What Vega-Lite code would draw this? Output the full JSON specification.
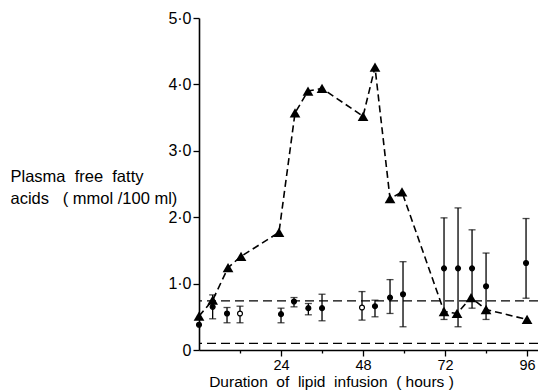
{
  "$schema": "https://vega.github.io/schema/vega-lite/v6.json",
  "width": 339,
  "height": 332,
  "autosize": "none",
  "padding": {"left": 199, "top": 18, "right": 0, "bottom": 40},
  "background": "white",
  "config": {
    "view": {"stroke": null},
    "font": "Liberation Sans",
    "axis": {"domainColor": "black", "tickColor": "black", "labelColor": "black", "titleColor": "black", "grid": false, "domainWidth": 1.6, "tickWidth": 1.3, "labelFont": "Liberation Sans", "titleFont": "Liberation Sans", "titleFontWeight": "normal"}
  },
  "datasets": {
    "tri": [
      {"h": 0, "v": 0.51}, {"h": 4, "v": 0.75}, {"h": 8.5, "v": 1.24}, {"h": 12.3, "v": 1.41},
      {"h": 23.4, "v": 1.77}, {"h": 28.1, "v": 3.57}, {"h": 31.9, "v": 3.9}, {"h": 36, "v": 3.94},
      {"h": 48, "v": 3.52}, {"h": 51.5, "v": 4.26}, {"h": 55.9, "v": 2.28}, {"h": 59.4, "v": 2.38},
      {"h": 71.7, "v": 0.58}, {"h": 75.5, "v": 0.55}, {"h": 79.6, "v": 0.79}, {"h": 84, "v": 0.61},
      {"h": 96, "v": 0.46}
    ],
    "err": [
      {"h": 0, "m": 0.38, "lo": null, "hi": null, "open": false},
      {"h": 4, "m": 0.65, "lo": 0.47, "hi": 0.83, "open": false},
      {"h": 8.2, "m": 0.55, "lo": 0.41, "hi": 0.64, "open": false},
      {"h": 12, "m": 0.55, "lo": 0.41, "hi": 0.66, "open": true},
      {"h": 24, "m": 0.54, "lo": 0.41, "hi": 0.63, "open": false},
      {"h": 27.8, "m": 0.73, "lo": 0.65, "hi": 0.79, "open": false},
      {"h": 32, "m": 0.63, "lo": 0.53, "hi": 0.7, "open": false},
      {"h": 36, "m": 0.63, "lo": 0.44, "hi": 0.84, "open": false},
      {"h": 47.7, "m": 0.64, "lo": 0.45, "hi": 0.88, "open": true},
      {"h": 51.5, "m": 0.66, "lo": 0.5, "hi": 0.75, "open": false},
      {"h": 55.9, "m": 0.79, "lo": 0.55, "hi": 1.06, "open": false},
      {"h": 59.7, "m": 0.84, "lo": 0.35, "hi": 1.33, "open": false},
      {"h": 71.7, "m": 1.23, "lo": 0.46, "hi": 1.99, "open": false},
      {"h": 75.8, "m": 1.23, "lo": 0.35, "hi": 2.14, "open": false},
      {"h": 79.9, "m": 1.23, "lo": 0.63, "hi": 1.81, "open": false},
      {"h": 84, "m": 0.96, "lo": 0.46, "hi": 1.46, "open": false},
      {"h": 95.7, "m": 1.31, "lo": 0.78, "hi": 1.98, "open": false}
    ],
    "refs": [{"r": 0.74}, {"r": 0.1}]
  },
  "layer": [
    {
      "data": {"name": "refs"},
      "mark": {"type": "rule", "color": "black", "strokeWidth": 1.3, "strokeDash": [9, 5]},
      "encoding": {
        "y": {"field": "r", "type": "quantitative", "scale": {"domain": [0, 5]},
          "axis": {
            "values": [0, 1, 2, 3, 4, 5],
            "labelExpr": "datum.value == 0 ? '0' : replace(format(datum.value, '.1f'), '.', '·')",
            "labelFontSize": 16, "tickSize": 6, "labelPadding": 2,
            "title": ["Plasma\u00a0 free\u00a0 fatty", "acids\u00a0\u00a0 ( mmol /100\u00a0ml)"],
            "titleFontSize": 16.5, "titleAngle": 0, "titleAlign": "left", "titleBaseline": "top",
            "titleX": -189, "titleY": 150, "titleLineHeight": 22
          }
        }
      }
    },
    {
      "data": {"name": "tri"},
      "mark": {"type": "line", "color": "black", "strokeWidth": 1.6, "strokeDash": [7, 4]},
      "encoding": {
        "x": {"field": "h", "type": "quantitative", "scale": {"domain": [0, 99.2], "nice": false},
          "axis": {
            "values": [12, 24, 36, 48, 60, 72, 84, 96],
            "labelExpr": "datum.value % 24 == 0 ? datum.label : ''",
            "labelFontSize": 14.5, "labelPadding": 2,
            "tickSize": {"condition": {"test": "datum.value % 24 == 0", "value": 6}, "value": 3},
            "title": "Duration\u00a0 of\u00a0 lipid\u00a0 infusion\u00a0 ( hours )",
            "titleFontSize": 15.5, "titleX": 132, "titleY": 36, "titleAlign": "center", "titleBaseline": "alphabetic"
          }
        },
        "y": {"field": "v", "type": "quantitative"}
      }
    },
    {
      "data": {"name": "err"},
      "transform": [{"filter": "isValid(datum.lo)"}],
      "mark": {"type": "rule", "color": "black", "strokeWidth": 1.3},
      "encoding": {
        "x": {"field": "h", "type": "quantitative"},
        "y": {"field": "lo", "type": "quantitative"},
        "y2": {"field": "hi"}
      }
    },
    {
      "data": {"name": "err"},
      "transform": [{"filter": "isValid(datum.lo)"}, {"fold": ["lo", "hi"], "as": ["k", "cap"]}],
      "mark": {"type": "tick", "orient": "horizontal", "color": "black", "size": 7, "thickness": 1.3},
      "encoding": {
        "x": {"field": "h", "type": "quantitative"},
        "y": {"field": "cap", "type": "quantitative"}
      }
    },
    {
      "data": {"name": "err"},
      "mark": {"type": "point", "shape": "circle", "stroke": "black", "strokeWidth": 1.2, "size": 24, "opacity": 1},
      "encoding": {
        "x": {"field": "h", "type": "quantitative"},
        "y": {"field": "m", "type": "quantitative"},
        "fill": {"field": "open", "type": "nominal", "scale": {"domain": [false, true], "range": ["black", "white"]}, "legend": null}
      }
    },
    {
      "data": {"name": "tri"},
      "mark": {"type": "point", "shape": "triangle-up", "filled": true, "color": "black", "size": 115, "opacity": 1},
      "encoding": {
        "x": {"field": "h", "type": "quantitative"},
        "y": {"field": "v", "type": "quantitative"}
      }
    }
  ]
}
